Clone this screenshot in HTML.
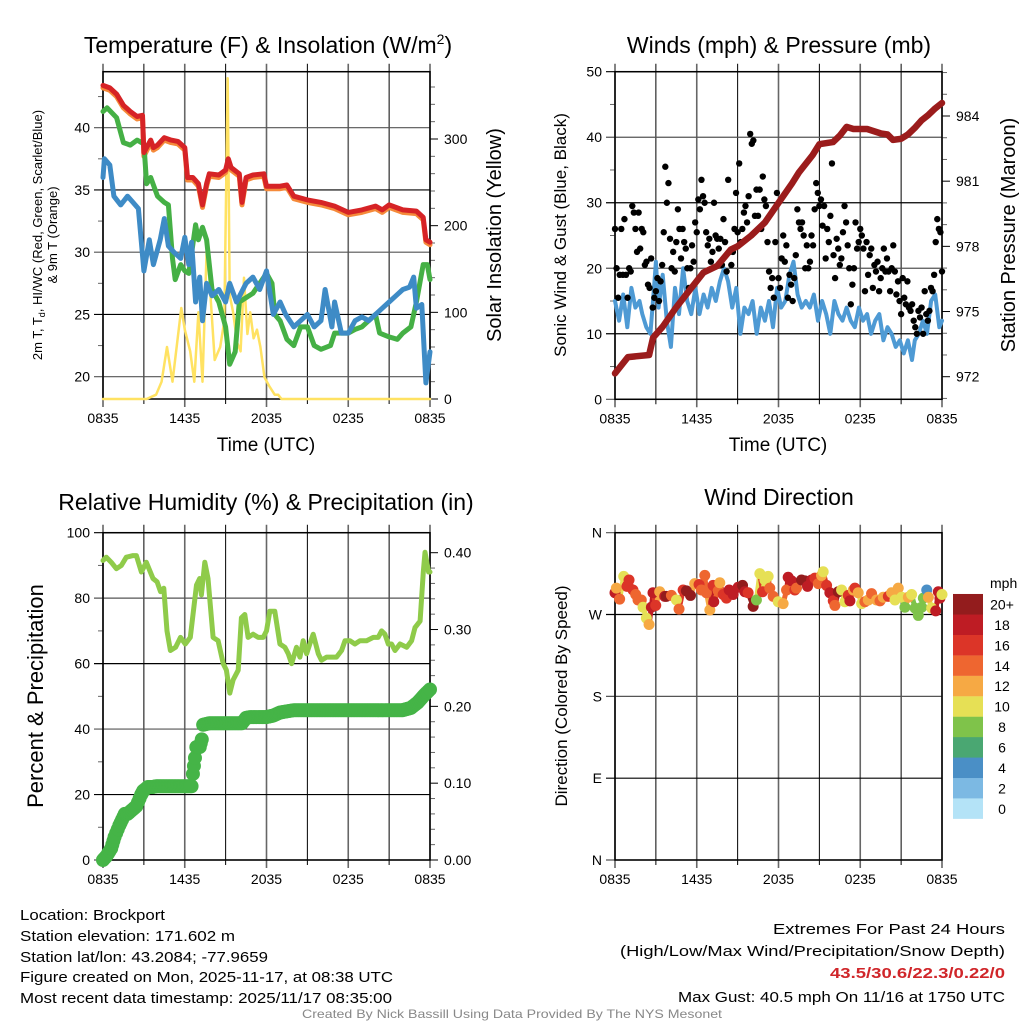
<!DOCTYPE html>
<html><head><meta charset="utf-8">
<style>
html,body{margin:0;padding:0;background:#fff;}
svg{display:block;font-family:"Liberation Sans",sans-serif;}
</style></head>
<body>
<svg id="c" width="1024" height="1024" viewBox="0 0 1024 1024" xmlns="http://www.w3.org/2000/svg">
<rect width="1024" height="1024" fill="#fff"/>
<g id="layer"></g>
<text x="268" y="53" font-size="23" text-anchor="middle">Temperature (F) &amp; Insolation (W/m<tspan font-size="14" dy="-9">2</tspan><tspan dy="9">)</tspan></text>
<text x="779" y="53" font-size="23" text-anchor="middle">Winds (mph) &amp; Pressure (mb)</text>
<text x="266" y="510" font-size="23" text-anchor="middle">Relative Humidity (%) &amp; Precipitation (in)</text>
<text x="779" y="505" font-size="23" text-anchor="middle">Wind Direction</text>
<g font-size="13" text-anchor="middle">
<text transform="translate(42,235) rotate(-90)">2m T, T<tspan font-size="9" dy="3">d</tspan><tspan dy="-3">, HI/WC (Red, Green, Scarlet/Blue)</tspan></text>
<text transform="translate(57,235) rotate(-90)">&amp; 9m T (Orange)</text>
</g>
<text transform="translate(501,235) rotate(-90)" font-size="20" text-anchor="middle">Solar Insolation (Yellow)</text>
<text transform="translate(566,235) rotate(-90)" font-size="17" text-anchor="middle">Sonic Wind &amp; Gust (Blue, Black)</text>
<text transform="translate(1015,235) rotate(-90)" font-size="20" text-anchor="middle">Station Pressure (Maroon)</text>
<text transform="translate(43,696) rotate(-90)" font-size="22" text-anchor="middle">Percent &amp; Precipitation</text>
<text transform="translate(567,696) rotate(-90)" font-size="17" text-anchor="middle">Direction (Colored By Speed)</text>
<text x="266" y="451" font-size="19" text-anchor="middle">Time (UTC)</text>
<text x="778" y="451" font-size="19" text-anchor="middle">Time (UTC)</text>
<text x="990" y="588" font-size="14">mph</text>
<g font-size="15">
<text x="20" y="920" textLength="145" lengthAdjust="spacingAndGlyphs">Location: Brockport</text>
<text x="20" y="941" textLength="215" lengthAdjust="spacingAndGlyphs">Station elevation: 171.602 m</text>
<text x="20" y="962" textLength="248" lengthAdjust="spacingAndGlyphs">Station lat/lon: 43.2084; -77.9659</text>
<text x="20" y="982" textLength="373" lengthAdjust="spacingAndGlyphs">Figure created on Mon, 2025-11-17, at 08:38 UTC</text>
<text x="20" y="1003" textLength="372" lengthAdjust="spacingAndGlyphs">Most recent data timestamp: 2025/11/17 08:35:00</text>
</g>
<g font-size="15">
<text x="773" y="934" textLength="232" lengthAdjust="spacingAndGlyphs">Extremes For Past 24 Hours</text>
<text x="620" y="956" textLength="385" lengthAdjust="spacingAndGlyphs">(High/Low/Max Wind/Precipitation/Snow Depth)</text>
<text x="830" y="978" textLength="175" lengthAdjust="spacingAndGlyphs" fill="#d0262a" font-weight="bold">43.5/30.6/22.3/0.22/0</text>
<text x="678" y="1002" textLength="327" lengthAdjust="spacingAndGlyphs">Max Gust: 40.5 mph On 11/16 at 1750 UTC</text>
</g>
<text x="302" y="1018" font-size="12" fill="#888" textLength="420" lengthAdjust="spacingAndGlyphs">Created By Nick Bassill Using Data Provided By The NYS Mesonet</text>
</svg>
<script>
const xTickLabels = ["0835","1435","2035","0235","0835"];
const tempHours = [0,0.5,1,1.5,2,2.5,2.9,3.0,3.5,3.7,4,4.5,5,5.5,6,6.2,6.6,7.0,7.3,7.6,7.8,8.5,9,9.2,9.4,10,10.2,10.5,11,11.8,12,13,13.5,14,15,16,17,18,19,20,20.5,21,22,23,23.5,23.7,24];
const tempRed = [43.4,43.2,42.7,41.8,41.3,40.9,41.0,38.0,39.0,38.4,38.6,39.2,39.0,38.9,38.4,36.0,36.0,35.5,33.8,35.5,36.3,36.2,36.6,37.5,36.8,36.3,34.0,36.0,36.2,36.3,35.3,35.3,35.4,34.5,34.2,34.0,33.7,33.2,33.4,33.7,33.4,33.8,33.4,33.3,32.8,31.0,30.8];
const tempOrange = [43.2,43.0,42.5,41.6,41.1,40.7,40.8,37.7,38.8,38.2,38.4,39.0,38.8,38.7,38.2,35.8,35.8,35.3,33.6,35.3,36.1,36.0,36.4,37.3,36.6,36.1,33.8,35.8,36.0,36.1,35.1,35.1,35.2,34.3,34.0,33.8,33.5,33.0,33.2,33.5,33.2,33.6,33.2,33.1,32.6,30.8,30.6];
const dewHours = [0,0.3,1,1.5,2,2.5,3.0,3.2,3.5,4,4.5,4.8,5.1,5.3,5.7,6,6.3,6.8,7,7.3,7.6,8,8.5,9,9.3,9.7,10,11,12,12.4,12.6,13,13.5,14,14.5,15,15.5,16,16.7,17,17.5,18,18.5,19,19.5,20,20.3,21,21.6,22,22.6,23,23.5,23.8,24];
const dewGreen = [41.3,41.6,40.8,38.8,38.6,39.0,38.7,35.5,36.0,34.5,34.0,33.8,29.5,27.8,29.0,28.5,28.3,32.2,31.0,32.0,31.0,27.0,26.0,24.0,21.0,22.0,26.0,26.7,28.3,27.5,25.0,24.5,23.0,22.5,24.0,24.0,22.5,22.2,22.5,23.5,23.5,23.5,23.8,24.0,24.5,25.0,23.5,23.2,23.0,23.5,24.0,26.0,29.0,29.0,27.8];
const wcHours = [0,0.1,0.5,0.8,1.3,1.8,2.2,2.6,3.0,3.4,3.7,4.2,4.5,4.8,5.2,5.7,6,6.3,6.5,6.8,7.1,7.3,7.6,8,8.5,9,9.3,9.8,10.5,11,11.5,12,12.5,13,13.4,14,14.5,15,15.5,16,16.3,16.8,17,17.5,18,18.5,19,19.5,20,20.5,21,21.5,22,22.5,22.8,23,23.4,23.7,24];
const wcBlue = [36.0,37.5,37.0,34.5,33.8,34.5,34.0,33.5,28.5,31.0,29.0,31.0,32.7,30.5,30.0,29.5,31.2,29.0,30.8,26.0,28.0,24.5,27.5,26.5,27.0,26.0,27.5,26.0,27.5,28.0,27.0,28.5,25.0,26.0,25.0,24.0,24.5,25.0,24.0,24.5,27.0,24.0,26.0,23.5,23.5,24.5,24.8,24.5,25.0,25.5,26.0,26.5,27.0,27.2,28.0,25.5,25.8,19.5,22.0];
const solarHours = [0,3.2,3.9,4.3,4.7,5.1,5.75,6.0,6.4,6.7,7.0,7.3,7.6,7.8,8.2,8.6,8.9,9.15,9.3,9.55,9.85,10.1,10.35,10.6,10.8,11.05,11.3,11.55,11.85,12.2,12.6,12.85,13.1,24];
const solarYellow = [0,0,5,20,60,20,105,80,55,20,100,20,170,140,45,60,90,370,120,100,65,55,140,75,100,70,80,60,25,15,5,5,0,0];
const windHours = [0,0.3,0.6,0.9,1.2,1.5,1.8,2.0,2.3,2.6,2.9,3.0,3.2,3.5,3.8,4.1,4.4,4.7,5.0,5.3,5.6,5.9,6.2,6.5,6.8,7.1,7.4,7.7,8.0,8.3,8.6,8.9,9.2,9.5,9.8,10.1,10.4,10.7,11.0,11.3,11.6,11.9,12.2,12.5,12.8,13.1,13.4,13.7,14.0,14.3,14.6,14.9,15.2,15.5,15.8,16.1,16.4,16.7,17.0,17.3,17.6,17.9,18.2,18.5,18.8,19.1,19.4,19.7,20.0,20.3,20.6,20.9,21.2,21.5,21.8,22.0,22.3,22.6,22.9,23.2,23.5,23.8,24];
const windBlue = [15,12,16,11,17,14,15,13,11,10,18,21,14,19,12,8,17,13,20,15,13,17,13,16,14,17,15,18,20,18,14,17,10,14,13,15,10,14,12,15,11,17,14,15,19,21,16,14,15,14,16,12,15,13,10,15,13,12,14,12,11,14,12,13,10,12,13,9,11,10,8,9,7,9,6,9,10,12,10,15,16,11,12];
const gustValues = [26,20,15.5,19,26,19,27.5,19,15.5,20,19.5,29.5,28.5,26,22.5,28.5,23,26,25.5,20.5,21,17.5,17,21.5,14,15.5,16.5,18.5,15,18,20.5,25.5,35.5,30,33,24.5,20,22.5,19.5,24,29,26,21.5,26,24,23,20,17,20,23.5,21,27,25.5,30.5,29,33.5,31,30,25.5,23.5,24.5,21,22.5,30,25,24.5,23,24.5,20.5,27.5,24,19.5,33.5,22.5,20.5,22.5,26,31.5,25.5,36,24,26,28.5,29.5,27,31,40.5,39,39.5,28,32,28,32,26,34,30.5,29.5,24,19.5,17,18.5,15.5,24,31.5,18.5,17,21.5,25,21,23.5,15.5,19,17.5,15,18.5,22,29,27,26,27,25,20,23.5,20,21,25,23.5,29,33,31.5,29.5,30.5,26.5,29.5,21.5,26,24,28,36,22,18.5,24.5,23,20.5,21.5,25.5,29.5,27,23.5,20,14.5,17.5,20,27,23,24,26,25,23,16.5,24,19,22,23,17,20.5,19.5,21,16.5,18.5,20,23,19.5,21.5,19.5,16.5,20,23.5,19.5,16,18,15,13,18.5,15.5,14.5,18,14,13.5,14.5,12,11,10,13.5,12.5,14,10,16.5,13,12,13.5,17,16.5,19,24,27.5,26,25.5,19.5];
const pressHours = [0,0.95,2.5,2.8,3.5,4.5,5.5,6.5,7.5,8.5,9,10,11,12,13,13.5,14.5,15,16,16.5,17,17.5,18.5,19.5,20,20.4,21,21.5,22,22.5,23,23.5,24];
const pressMaroon = [972.15,972.9,973.0,973.8,974.3,975.2,976.0,976.8,977.1,977.85,978.0,978.5,979.1,980.0,980.9,981.4,982.2,982.7,982.8,983.1,983.5,983.4,983.4,983.2,983.15,982.9,982.95,983.15,983.45,983.8,984.05,984.35,984.6];
const rhHours = [0,0.24,0.6,0.98,1.35,1.71,2.2,2.45,2.82,3.18,3.67,3.97,4.22,4.46,4.7,4.95,5.33,5.69,6.04,6.41,6.86,7.1,7.22,7.47,7.71,8.08,8.45,8.82,9.06,9.31,9.55,9.92,10.16,10.41,10.65,11.02,11.39,11.76,12.0,12.24,12.61,12.98,13.35,13.6,13.84,14.2,14.45,14.69,14.94,15.18,15.43,15.8,16.04,16.41,16.78,17.14,17.51,17.76,18.12,18.49,18.86,19.35,19.84,20.2,20.45,20.69,20.94,21.18,21.43,21.8,22.29,22.65,22.9,23.27,23.51,23.63,23.9,24];
const rhGreen = [91.5,92.5,91,89,90,92.5,93,93,88,91,86,85,82,83,70,64,65,68,66,68,84,86,81,91,86,68,67,60,58,51,55,58,74,75,68,69,68,68,70,76,76,66,65,63,60,65,62,67,63,66,69,63,61,62,62,62,64,67,67,66,67,67,68,68,70,69,66,66,64,66,65,67,71,73,88,94,88,88];
const precipHours = [0,0.25,0.6,0.85,1.2,1.6,1.8,2.45,2.8,2.95,3.3,3.65,3.9,5.0,6.0,6.5,6.6,6.75,6.85,7.1,7.25,7.35,7.8,8.5,9.5,10.2,10.5,10.8,11.5,12.0,12.5,13.0,14.0,16,18,20,22,22.6,23.1,23.6,24];
const precipValues = [0,0.005,0.015,0.03,0.045,0.06,0.06,0.07,0.085,0.09,0.095,0.095,0.096,0.096,0.096,0.096,0.112,0.133,0.147,0.147,0.157,0.176,0.178,0.178,0.178,0.178,0.185,0.186,0.186,0.186,0.188,0.192,0.195,0.195,0.195,0.195,0.195,0.198,0.205,0.215,0.222];
const dirHours = [0,0.1,0.34,0.64,0.88,1.03,1.32,1.52,1.69,1.93,2.06,2.3,2.5,2.67,2.79,2.99,3.28,3.65,3.77,4.14,4.51,4.7,5.0,5.24,5.54,5.85,6.17,6.34,6.59,6.71,6.96,7.2,7.25,7.57,7.69,7.94,8.18,8.38,8.67,9.04,9.36,9.53,9.77,10.14,10.38,10.63,10.83,11.0,11.24,11.36,11.61,11.98,12.34,12.59,12.71,12.96,13.2,13.32,13.69,13.94,14.13,14.43,14.67,14.92,15.16,15.28,15.53,15.77,16.02,16.14,16.39,16.63,16.87,17.12,17.24,17.49,17.61,17.85,18.1,18.34,18.59,18.83,19.2,19.45,19.69,20.06,20.3,20.55,20.79,21.04,21.28,21.53,21.77,22.02,22.26,22.51,22.63,22.88,23.0,23.24,23.54,23.73,23.85,24];
const dirDegrees = [294,299,287,312,301,308,297,292,286,286,278,266,259,278,294,280,295,290,290,291,286,276,297,296,291,304,303,297,313,294,275,302,284,296,305,292,288,297,292,300,302,295,294,279,286,315,295,308,312,299,290,284,282,297,311,307,297,299,308,307,301,308,310,304,313,317,302,294,285,280,295,297,284,291,285,297,299,294,282,284,286,293,286,285,289,290,294,286,299,289,278,289,292,277,269,278,288,297,289,277,274,295,288,292];
const dirSpeeds = [18,12,14,10,16,16,16,14,14,14,10,10,12,18,18,16,12,18,20,14,10,14,16,20,20,12,16,14,14,14,12,16,18,14,12,16,16,18,18,18,20,18,16,20,8,10,16,10,10,14,14,10,12,14,18,18,16,14,20,20,18,18,16,14,12,10,16,18,16,14,20,10,10,16,18,12,16,12,10,14,12,14,12,14,12,16,12,10,12,10,8,12,10,8,8,8,8,4,12,10,18,18,18,10];
const legendLabels = ["0","2","4","6","8","10","12","14","16","18","20+"];
const legendColors = ["#b4e3f7","#7cb9e3","#4a8fc6","#4aa772","#7fc34a","#e6e055","#f6a944","#ee6630","#dc3528","#be1c24","#931c1d"];

const NS="http://www.w3.org/2000/svg";
const layer=document.getElementById('layer');
function mk(tag,attrs,parent){const e=document.createElementNS(NS,tag);for(const k in attrs)e.setAttribute(k,attrs[k]);(parent||layer).appendChild(e);return e;}
function xScale(x0){return h=>x0+h/24*327;}
function linScale(v0,p0,v1,p1){return v=>p0+(v-v0)*(p1-p0)/(v1-v0);}
function pathD(xs,ys,fx,fy){return xs.map((h,i)=>(i?'L':'M')+fx(h).toFixed(1)+','+fy(ys[i]).toFixed(1)).join('');}

function panel(name,x0,yT,yB,yTicks,fy,yLabels,rTicks,fr,rLabels,rMinor,leftMinor){
  const g=mk('g',{});
  
  
  const fx=xScale(x0);
  for(let i=0;i<=8;i++){
    const x=fx(i*3);
    const l=mk('line',{x1:x,y1:yT-8,x2:x,y2:yB+(i%2===0?8:5),stroke:i%2?'#000':'#666','stroke-width':i%2?1:1.6},g);
    
    
    if(i%2===0){
      const t=mk('text',{x:x,y:yB+24,'font-size':14,'text-anchor':'middle'},g);
      t.textContent=xTickLabels[i/2];
      
      
    }
  }
  yTicks.forEach((v,i)=>{
    const y=fy(v);
    const l=mk('line',{x1:x0-9,y1:y,x2:x0+327,y2:y,stroke:i%2?'#000':'#555','stroke-width':1.2},g);
    
    
    const t=mk('text',{x:x0-13,y:y+5,'font-size':14,'text-anchor':'end'},g);
    t.textContent=yLabels[i];
    
    
  });
  (leftMinor||[]).forEach(v=>{mk('line',{x1:x0-5,y1:fy(v),x2:x0,y2:fy(v),stroke:'#666'},g);});
  if(rTicks){
    rTicks.forEach((v,i)=>{
      const y=fr(v);
      mk('line',{x1:x0+327,y1:y,x2:x0+335,y2:y,stroke:'#000'},g);
      const t=mk('text',{x:x0+341,y:y+5,'font-size':14},g);
      t.textContent=rLabels[i];
      
      
    });
    rMinor.forEach(v=>{mk('line',{x1:x0+327,y1:fr(v),x2:x0+332,y2:fr(v),stroke:'#666'},g);});
  }
  const f=mk('rect',{x:x0,y:yT,width:327,height:yB-yT,fill:'none',stroke:'#000','stroke-width':1.5},g);
  
  
  return fx;
}
function line(name,fx,fy,xs,ys,color,w){
  const p=mk('path',{d:pathD(xs,ys,fx,fy),fill:'none',stroke:color,'stroke-width':w,'stroke-linejoin':'round','stroke-linecap':'round'});
  
  
}

const yT1=linScale(20,376.7,40,127.7), yS1=linScale(0,399,300,139);
const minorS=[];for(let v=20;v<=360;v+=20)if(v%100)minorS.push(v);
const fx1=panel('temperature-panel',103,71.7,399,[20,25,30,35,40],yT1,['20','25','30','35','40'],[0,100,200,300],yS1,['0','100','200','300'],minorS,[22.5,27.5,32.5,37.5,42.5]);
line('insolation-line',fx1,yS1,solarHours,solarYellow,'#ffe262',2.5);
line('temp-9m-line',fx1,yT1,tempHours,tempOrange,'#f58a3a',5);
line('dewpoint-line',fx1,yT1,dewHours,dewGreen,'#45b045',5);
line('windchill-line',fx1,yT1,wcHours,wcBlue,'#3e8bc6',5);
line('temperature-line',fx1,yT1,tempHours,tempRed,'#d62326',5);

const yW2=linScale(0,399.3,50,71.7), yP2=linScale(972,376.7,984,116);
const minorP=[];for(let v=971;v<=986;v++)if(v%3)minorP.push(v);
const fx2=panel('winds-panel',615,71.7,399.3,[0,10,20,30,40,50],yW2,['0','10','20','30','40','50'],[972,975,978,981,984],yP2,['972','975','978','981','984'],minorP,[5,15,25,35,45]);
line('sonic-wind-line',fx2,yW2,windHours,windBlue,'#4e9ad4',4);
const gg=mk('g',{});


gustValues.forEach((v,i)=>{
  const c=mk('circle',{cx:fx2(i/(gustValues.length-1)*24),cy:yW2(v),r:3.2,fill:'#000'},gg);
  
  
});
line('pressure-line',fx2,yP2,pressHours,pressMaroon,'#9b1c1c',6.5);

const yR3=linScale(0,860,100,532.7), yPr3=linScale(0,860,0.4,552.7);
const minorPr=[];for(let v=0.02;v<0.42;v+=0.02){const r=Math.round(v*100);if(r%10)minorPr.push(r/100);}
const fx3=panel('humidity-panel',103,532.7,860,[0,20,40,60,80,100],yR3,['0','20','40','60','80','100'],[0,0.1,0.2,0.3,0.4],yPr3,['0.00','0.10','0.20','0.30','0.40'],minorPr,[10,30,50,70,90]);
line('humidity-line',fx3,yR3,rhHours,rhGreen,'#8fcb4a',5);
const pg=mk('g',{});


for(let i=0;i<precipHours.length-1;i++){
  const h0=precipHours[i],h1=precipHours[i+1],v0=precipValues[i],v1=precipValues[i+1];
  const n=Math.max(1,Math.ceil((h1-h0)/0.12));
  for(let k=0;k<n;k++){
    const t=k/n;
    const c=mk('circle',{cx:fx3(h0+(h1-h0)*t),cy:yPr3(v0+(v1-v0)*t),r:7,fill:'#45b447'},pg);
    
    
  }
}
const cl=mk('circle',{cx:fx3(24),cy:yPr3(precipValues[precipValues.length-1]),r:7,fill:'#45b447'},pg);



const yD4=linScale(0,860,360,532.7);
const fx4=panel('wind-direction-panel',615,532.7,860,[0,90,180,270,360],yD4,['N','E','S','W','N'],null);
const dg=mk('g',{});


function spColor(s){let i=Math.min(10,Math.floor(s/2));return legendColors[i];}
dirHours.forEach((h,i)=>{
  if(i>0){
    mk('line',{x1:fx4(dirHours[i-1]),y1:yD4(dirDegrees[i-1]),x2:fx4(h),y2:yD4(dirDegrees[i]),stroke:spColor(dirSpeeds[i]),'stroke-width':5},dg);
  }
});
dirHours.forEach((h,i)=>{
  const c=mk('circle',{cx:fx4(h),cy:yD4(dirDegrees[i]),r:5.5,fill:spColor(dirSpeeds[i])},dg);
  
  
});
const lg=mk('g',{});


legendColors.forEach((col,i)=>{
  const y=818.7-(i+1)*20.43;
  const r=mk('rect',{x:953,y:y,width:30,height:20.6,fill:col},lg);
  
  
  const t=mk('text',{x:1002,y:y+15.5,'font-size':14,'text-anchor':'middle'},lg);
  t.textContent=legendLabels[i];
  
  
});
</script>
</body></html>
